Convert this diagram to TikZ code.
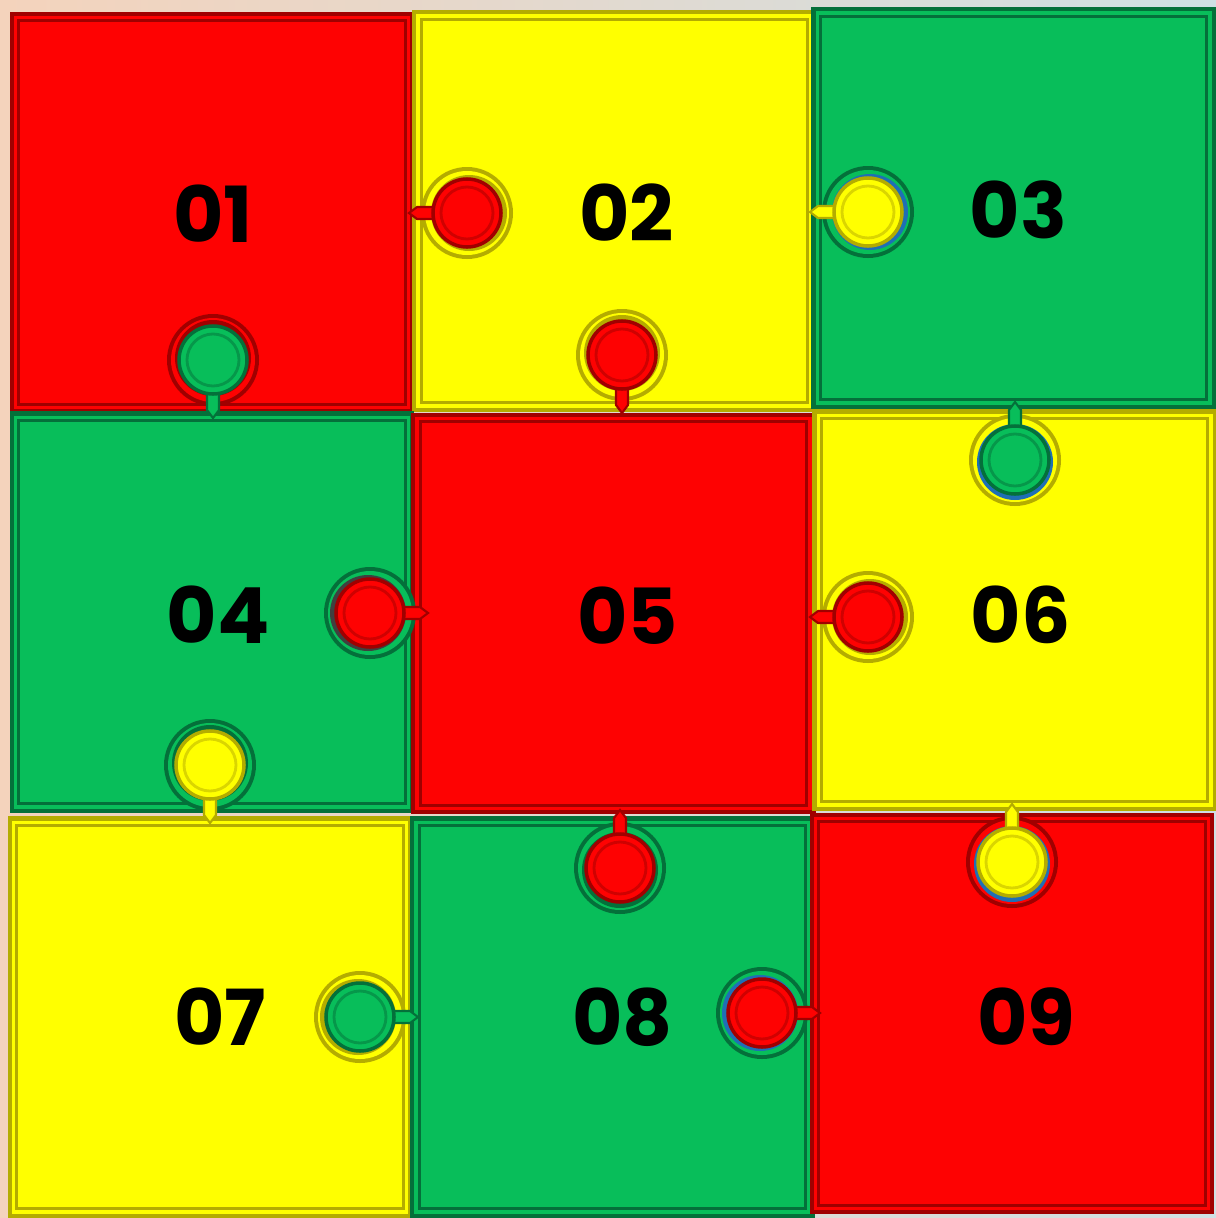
\documentclass[tikz,border=0pt]{standalone}
\usepackage{fontspec}
\newfontfamily\numfont{Poppins}
\usepackage{tikz}
\usetikzlibrary{
  positioning, % 节点相对定位
  calc         % 坐标计算
}

% 拼图配色
\definecolor{tileRed}{HTML}{FE0202}
\definecolor{tileRedDark}{HTML}{A00000}
\definecolor{tileYellow}{HTML}{FFFF00}
\definecolor{tileYellowDark}{HTML}{B4AC00}
\definecolor{tileGreen}{HTML}{08BE5A}
\definecolor{tileGreenDark}{HTML}{04703A}
\definecolor{edgeBlue}{HTML}{1F6FB5}
\definecolor{backPeach}{HTML}{F4D3BC}
\definecolor{backBlue}{HTML}{CFE0E4}

% 凸起的圆形卡扣：#1 圆心, #2 柄的方向, #3 卡扣颜色, #4 所在方块颜色, #5 凹槽边色
\newcommand{\tileknob}[5]{%
  \begin{scope}[shift={#1}, rotate=#2]
    \fill[#4Dark] (0,0) circle (46);
    \fill[#4] (0,0) circle (42);
    \fill[#5] (-2,0) circle (38);
    \filldraw[fill=#3, draw=#3Dark, line width=0.6pt]
      (28,-6) -- (50,-6) -- (58,0) -- (50,6) -- (28,6) -- cycle;
    \filldraw[fill=#3, draw=#3Dark, line width=1pt] (0,0) circle (34);
    \draw[#3Dark!50!#3, line width=0.8pt] (0,0) circle (26);
  \end{scope}}

\begin{document}
\begin{tikzpicture}[x=0.01cm, y=-0.01cm,
  tile/.style={fill=#1, draw=#1Dark, line width=1.2pt,
    minimum width=4cm, minimum height=3.97cm, inner sep=0pt},
  bevel/.style={draw=#1Dark, line width=0.9pt},
  numlabel/.style={inner sep=0pt,
    font=\numfont\bfseries\fontsize{22}{22}\selectfont}]

  % 背景
  \shade[left color=backPeach, right color=backBlue] (0,0) rectangle (1216,1218);
  \useasboundingbox (0,0) rectangle (1216,1218);

  % ===== 九个方块 =====
  \node[tile=tileRed]    (t01) at (212,212.5)   {};
  \node[tile=tileYellow] (t02) at (614.5,211)   {};
  \node[tile=tileGreen]  (t03) at (1013.5,208)  {};
  \node[tile=tileGreen]  (t04) at (212,612)     {};
  \node[tile=tileRed]    (t05) at (613.5,613.5) {};
  \node[tile=tileYellow] (t06) at (1014.5,610)  {};
  \node[tile=tileYellow] (t07) at (210,1017)    {};
  \node[tile=tileGreen]  (t08) at (612.5,1017)  {};
  \node[tile=tileRed]    (t09) at (1012,1013.5) {};

  % 内框（立体边）
  \foreach \t/\c in {01/tileRed, 02/tileYellow, 03/tileGreen,
                     04/tileGreen, 05/tileRed, 06/tileYellow,
                     07/tileYellow, 08/tileGreen, 09/tileRed}
    \draw[bevel=\c] ([shift={(9,9)}]t\t.north west)
      rectangle ([shift={(-9,-9)}]t\t.south east);

  % ===== 编号（略偏右）=====
  \node[numlabel] (n01) at ($(t01)+(1,1)$)   {01};
  \node[numlabel] (n02) at ($(t02)+(12,2)$)  {02};
  \node[numlabel] (n03) at ($(t03)+(5,2)$)   {03};
  \node[numlabel] (n04) at ($(t04)+(6,3)$)   {04};
  \node[numlabel] (n05) at ($(t05)+(14,2)$)  {05};
  \node[numlabel] (n06) at ($(t06)+(6,5)$)   {06};
  \node[numlabel] (n07) at ($(t07)+(10,0)$)  {07};
  \node[numlabel] (n08) at ($(t08)+(10,0)$)  {08};
  \node[numlabel] (n09) at ($(t09)+(14,3)$)  {09};

  % ===== 卡扣 =====
  % 横向
  \tileknob{(467,213)}{180}{tileRed}{tileYellow}{tileYellowDark}
  \tileknob{(868,212)}{180}{tileYellow}{tileGreen}{edgeBlue}
  \tileknob{(370,613)}{0}{tileRed}{tileGreen}{darkgray}
  \tileknob{(868,617)}{180}{tileRed}{tileYellow}{tileYellowDark}
  \tileknob{(360,1017)}{0}{tileGreen}{tileYellow}{tileYellowDark}
  \tileknob{(762,1013)}{0}{tileRed}{tileGreen}{edgeBlue}
  % 纵向
  \tileknob{(213,360)}{270}{tileGreen}{tileRed}{tileRedDark}
  \tileknob{(622,355)}{270}{tileRed}{tileYellow}{tileYellowDark}
  \tileknob{(1015,460)}{90}{tileGreen}{tileYellow}{edgeBlue}
  \tileknob{(210,765)}{270}{tileYellow}{tileGreen}{tileGreenDark}
  \tileknob{(620,868)}{90}{tileRed}{tileGreen}{tileGreenDark}
  \tileknob{(1012,862)}{90}{tileYellow}{tileRed}{edgeBlue}
\end{tikzpicture}
\end{document}
